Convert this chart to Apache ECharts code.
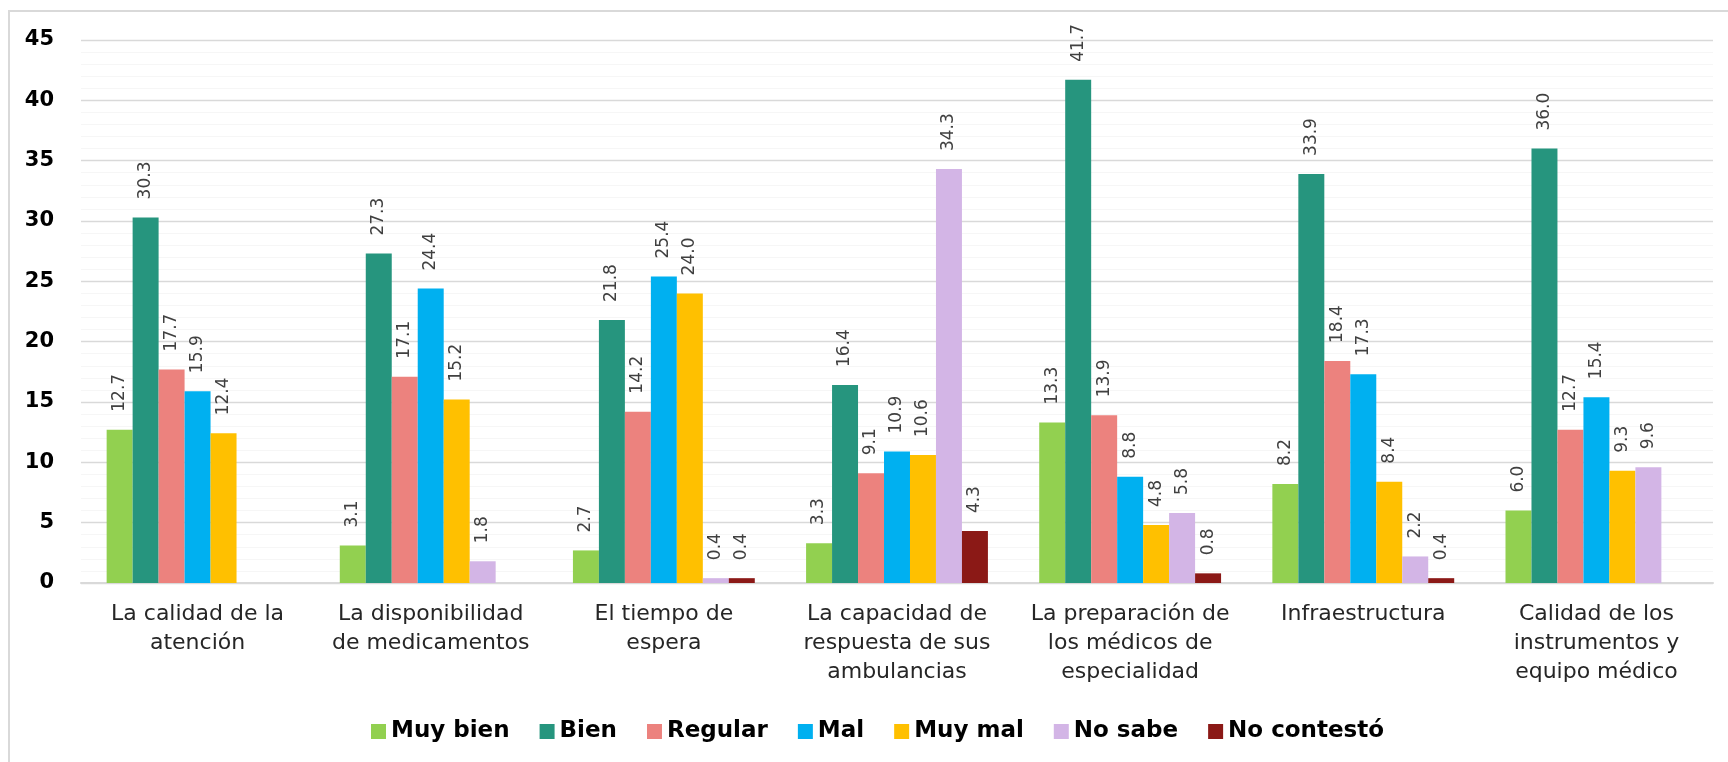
<!DOCTYPE html>
<html>
<head>
<meta charset="utf-8">
<script src="https://cdn.jsdelivr.net/npm/echarts@6/dist/echarts.min.js"></script>
<style>
html,body{margin:0;padding:0;background:#fff;}
#chart{width:1728px;height:762px;}
</style>
</head>
<body>
<div id="chart"></div>
<script>
const categories = [
  "La calidad de la\natención",
  "La disponibilidad\nde medicamentos",
  "El tiempo de\nespera",
  "La capacidad de\nrespuesta de sus\nambulancias",
  "La preparación de\nlos médicos de\nespecialidad",
  "Infraestructura",
  "Calidad de los\ninstrumentos y\nequipo médico"
];
const seriesNames = ["Muy bien", "Bien", "Regular", "Mal", "Muy mal", "No sabe", "No contestó"];
const seriesColors = ["#92D050", "#26957E", "#EC827E", "#00B0F0", "#FFC000", "#D3B5E6", "#8B1916"];
const muyBien    = [12.7, 3.1, 2.7, 3.3, 13.3, 8.2, 6.0];
const bien       = [30.3, 27.3, 21.8, 16.4, 41.7, 33.9, 36.0];
const regular    = [17.7, 17.1, 14.2, 9.1, 13.9, 18.4, 12.7];
const mal        = [15.9, 24.4, 25.4, 10.9, 8.8, 17.3, 15.4];
const muyMal     = [12.4, 15.2, 24.0, 10.6, 4.8, 8.4, 9.3];
const noSabe     = [null, 1.8, 0.4, 34.3, 5.8, 2.2, 9.6];
const noContesto = [null, null, 0.4, 4.3, 0.8, 0.4, null];
const yTicks = [0, 5, 10, 15, 20, 25, 30, 35, 40, 45];

const seriesData = [muyBien, bien, regular, mal, muyMal, noSabe, noContesto];

const chart = echarts.init(document.getElementById('chart'));
chart.setOption({
  animation: false,
  backgroundColor: '#ffffff',
  graphic: [{
    type: 'rect',
    shape: { x: 9, y: 11, width: 1800, height: 900 },
    style: { fill: 'none', stroke: '#D9D9D9', lineWidth: 2 },
    silent: true
  }],
  grid: { left: 81, right: 15, top: 40, bottom: 179, containLabel: false },
  legend: {
    data: seriesNames,
    left: 366,
    top: 715,
    itemWidth: 15,
    itemHeight: 15,
    itemGap: 30,
    icon: 'rect',
    textStyle: { fontFamily: 'DejaVu Sans', fontWeight: 'bold', fontSize: 23, color: '#000' }
  },
  xAxis: {
    type: 'category',
    data: categories,
    axisTick: { show: false },
    axisLine: { lineStyle: { color: '#D9D9D9', width: 2 } },
    axisLabel: {
      fontFamily: 'DejaVu Sans', fontSize: 22, color: '#262626',
      lineHeight: 29, margin: 17, interval: 0
    }
  },
  yAxis: {
    type: 'value',
    min: yTicks[0],
    max: yTicks[yTicks.length - 1],
    interval: 5,
    axisLine: { show: false },
    axisTick: { show: false },
    axisLabel: { fontFamily: 'DejaVu Sans', fontWeight: 'bold', fontSize: 21, color: '#000', margin: 27 },
    splitLine: { lineStyle: { color: '#D9D9D9', width: 1.3 } },
    minorTick: { show: false, splitNumber: 5 },
    minorSplitLine: { show: true, lineStyle: { color: '#F6F6F6', width: 1 } }
  },
  series: seriesNames.map((name, i) => ({
    name: name,
    type: 'bar',
    data: seriesData[i],
    barGap: '0%',
    barCategoryGap: '22%',
    itemStyle: { color: seriesColors[i] },
    label: {
      show: true,
      position: 'top',
      rotate: 90,
      align: 'left',
      verticalAlign: 'middle',
      distance: 18,
      fontFamily: 'DejaVu Sans',
      fontSize: 17,
      color: '#404040',
      formatter: p => (p.value == null ? '' : Number(p.value).toFixed(1))
    }
  }))
});
</script>
</body>
</html>
